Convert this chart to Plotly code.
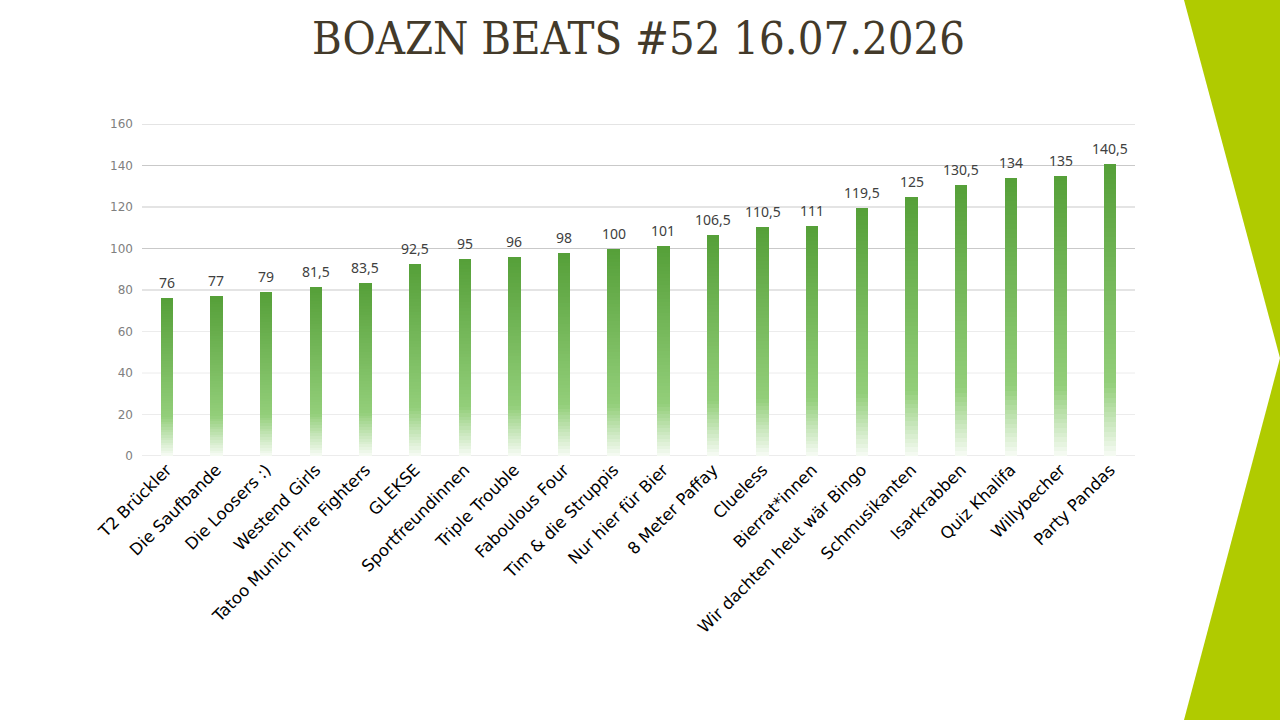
import plotly.graph_objects as go

# quiz teams and their points
teams = ["T2 Brückler", "Die Saufbande", "Die Loosers :)", "Westend Girls",
         "Tatoo Munich Fire Fighters", "GLEKSE", "Sportfreundinnen", "Triple Trouble",
         "Faboulous Four", "Tim & die Struppis", "Nur hier für Bier", "8 Meter Paffay",
         "Clueless", "Bierrat*innen", "Wir dachten heut wär Bingo", "Schmusikanten",
         "Isarkrabben", "Quiz Khalifa", "Willybecher", "Party Pandas"]
points = [76, 77, 79, 81.5, 83.5, 92.5, 95, 96, 98, 100,
          101, 106.5, 110.5, 111, 119.5, 125, 130.5, 134, 135, 140.5]
y_ticks = [0, 20, 40, 60, 80, 100, 120, 140, 160]

W, H = 1280, 720
L, R, T, B = 142, 145, 124, 264


def fmt(v):
    s = ("%g" % v)
    return s.replace(".", ",")


def mix(c1, c2, f):
    return tuple(a + (b - a) * f for a, b in zip(c1, c2))


top = (85, 159, 56)
mid = (147, 207, 122)
low = (247, 251, 245)


def grad(t):
    # t = 0 at the bottom of a bar, 1 at its top
    if t < 0.25:
        c = mix(low, mid, t / 0.25)
    else:
        c = mix(mid, top, (t - 0.25) / 0.75)
    return "rgb(%d,%d,%d)" % tuple(round(x) for x in c)


fig = go.Figure()

N = 60
for k in range(N):
    fig.add_trace(go.Bar(
        x=teams, y=[v / N for v in points],
        marker=dict(color=grad((k + 0.5) / N), line=dict(width=0)),
        hoverinfo="skip", showlegend=False,
    ))

# value labels above the bars
annos = []
for t, v in zip(teams, points):
    annos.append(dict(x=t, y=v, text=fmt(v), showarrow=False, yanchor="bottom",
                      yshift=4, font=dict(family="Noto Sans", size=14, color="#404040")))

shapes = []
for v in y_ticks:
    if v == 0:
        col = "#d9d9d9"
    elif v >= 80:
        col = "#c9c9c9"
    else:
        col = "#ececec"
    shapes.append(dict(type="line", xref="paper", yref="y", x0=0, x1=1, y0=v, y1=v,
                       line=dict(color=col, width=1), layer="below"))

# green chevron at the right edge
pw, ph = W - L - R, H - T - B


def px(x):
    return (x - L) / pw


def py(y):
    return (H - B - y) / ph


shapes.append(dict(type="path", xref="paper", yref="paper", line=dict(width=0),
                   fillcolor="#b0cb00",
                   path="M %f %f L %f %f L %f %f Z" % (px(1184), py(0), px(1280), py(0), px(1280), py(358))))
shapes.append(dict(type="path", xref="paper", yref="paper", line=dict(width=0),
                   fillcolor="#b0cb00",
                   path="M %f %f L %f %f L %f %f Z" % (px(1280), py(358), px(1280), py(720), px(1184), py(720))))

fig.update_layout(
    width=W, height=H,
    margin=dict(l=L, r=R, t=T, b=B),
    paper_bgcolor="white", plot_bgcolor="white",
    barmode="stack", bargap=0.75,
    shapes=shapes, annotations=annos,
    title=dict(text="BOAZN BEATS #52 16.07.2026", x=0.5, xref="paper", xanchor="center",
               y=1 - 38 / H, yanchor="middle", yref="container",
               font=dict(family="DejaVu Serif Condensed", size=45, color="#433a2a")),
    xaxis=dict(tickangle=-45, showgrid=False, showline=False, ticks="",
               tickfont=dict(family="DejaVu Sans", size=16.5, color="#000000"),
               range=[-0.5, len(teams) - 0.5]),
    yaxis=dict(range=[0, 160], tickvals=y_ticks, showgrid=False, zeroline=False,
               ticks="", ticklabelstandoff=8,
               tickfont=dict(family="DejaVu Sans", size=12, color="#808080")),
)

fig.write_html("out.html", config={"displayModeBar": False},
               post_script="document.body.style.margin='0';")
